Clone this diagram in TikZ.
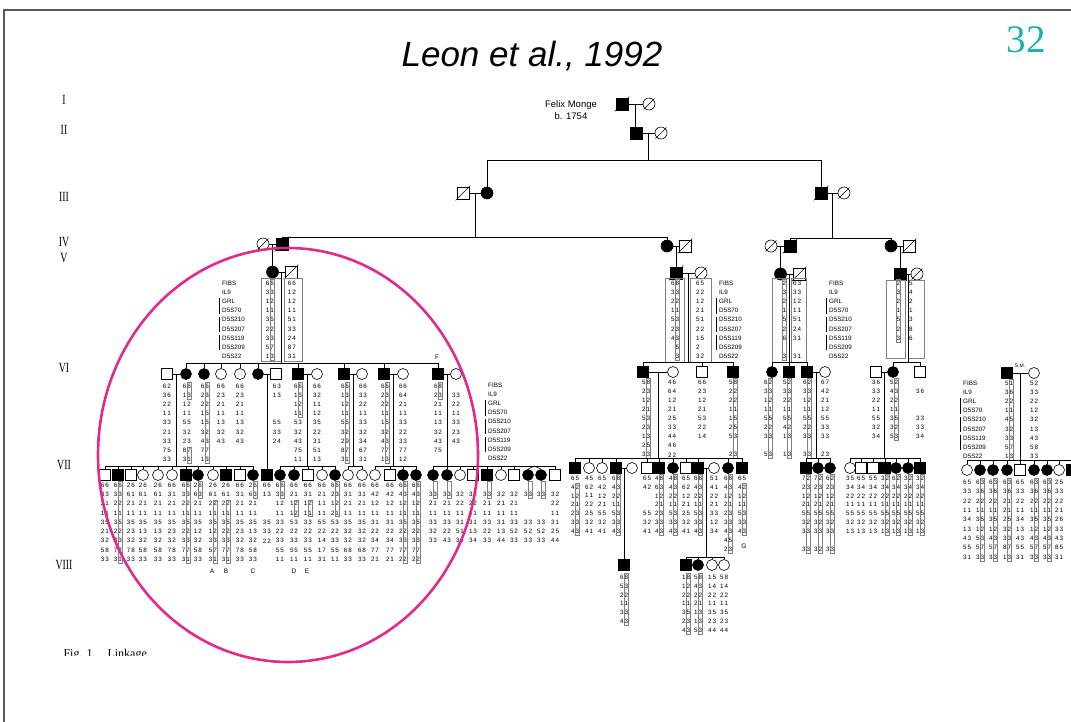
\documentclass[tikz,border=0pt]{standalone}
\usepackage{fontspec}
\setmainfont{Liberation Serif}
\setsansfont{Liberation Sans}
\usetikzlibrary{calc}

\definecolor{ringpink}{RGB}{226,42,140}
\definecolor{slideno}{RGB}{22,180,172}
\definecolor{framegray}{RGB}{90,90,90}

\newcommand\gtfont{\sffamily\fontsize{6.3}{7}\selectfont}
\newcommand\mkfont{\sffamily\fontsize{6.3}{7}\selectfont}

% allele pair, o stands for an untyped allele
\newcommand\allele[1]{\if o#1\phantom{0}\else#1\fi}
\newcommand\pr[2]{\allele{#1}\hspace{1pt}\allele{#2}}

% genotype column: x, top y, row step, list of pairs
\newcommand\geno[4]{%
  \foreach \p [count=\r] in #4
    \node[gt] (g#1y#2r\r) at (#1,{#2+(\r-1)*#3}) {\expandafter\pr\p};}

% marker names with their linkage bars
\newcommand\markers[3]{%
  \foreach \m [count=\r] in {FIBS,IL9,GRL,D5S70,D5S210,D5S207,D5S119,D5S209,D5S22}
    \node[mk] (mk#1r\r) at (#1,{#2+(\r-1)*#3}) {\m};
  \foreach \r in {3,5,7}
    \draw[kin, line width=.4pt] (#1-2.5,{#2+(\r-1)*#3-3}) -- (#1-2.5,{#2+\r*#3+3});}

% box round one haplotype: x, top y, step, first row, last row
\newcommand\haplo[5]{\draw[hap] (#1+.1,{#2+(#4-1)*#3-3.6}) rectangle (#1+4.6,{#2+(#5-1)*#3+3.6});}

% row of individuals: prefix, y, x/style list
\newcommand\sibrow[3]{%
  \foreach \x/\s [count=\n] in {#3}{%
    \edef\tmp{\noexpand\node[\s] (#1\n) at (\x,#2) {};}\tmp}}

% descent line: parent point, bar y, children
\newcommand\brood[3]{%
  \coordinate (bar) at (0,#2);
  \draw[kin] (#1) -- (#1 |- bar);
  \foreach \k in {#3}
    \draw[kin] (\k.north) -- (\k |- bar) -- (#1 |- bar);}

\newcommand\couple[3]{\draw[kin] (#1) -- (#2); \coordinate (#3) at ($(#1)!.5!(#2)$);}

\tikzset{
  kin/.style={line width=.6pt},
  ind/.style={draw, line width=.6pt, inner sep=0pt, minimum size=11pt},
  big/.style={minimum size=12pt},
  msq/.style={ind, rectangle, fill=white},
  fsq/.style={ind, rectangle, fill=black},
  fem/.style={ind, circle, fill=white},
  ffem/.style={ind, circle, fill=black},
  dead/.style={append after command={(\tikzlastnode.south west) edge[kin, shorten <=-1.5pt, shorten >=-1.5pt] (\tikzlastnode.north east)}},
  dsq/.style={msq, dead},
  dfem/.style={fem, dead},
  gt/.style={font=\gtfont, inner sep=0pt},
  mk/.style={font=\mkfont, inner sep=0pt, anchor=west},
  tag/.style={font=\sffamily\fontsize{6.5}{7}\selectfont, inner sep=0pt},
  hap/.style={draw=black!50, line width=.4pt},
  gen/.style={font=\rmfamily\fontsize{14}{14}\selectfont, inner sep=0pt},
}

\begin{document}
\begin{tikzpicture}[x=1pt,y=-1pt]
\useasboundingbox (0,0) rectangle (1071,721);
\fill[white] (0,0) rectangle (1071,721);
% slide frame
\draw[framegray, line width=1.3pt] (4,740) -- (4,10) -- (1090,10);

% heading and slide number
\node[font=\sffamily\itshape\fontsize{35}{40}\selectfont, anchor=base] (title) at (532,66) {Leon et al., 1992};
\node[font=\rmfamily\fontsize{39}{40}\selectfont, text=slideno, anchor=base] (slidenum) at (1026,52) {32};

% generation numbers
\foreach \g/\y [count=\i] in {I/100,II/130,III/197,IV/242,V/258,VI/368,VII/465,VIII/565}
  \node[gen] (gen\i) at (64,\y) {\scalebox{.7}[1]{\g}};

% generations I to V
\node[fsq,big,dead] (felix) at (622,104) {};
\node[dfem,big] (felixw) at (649,104) {};
\node[font=\sffamily\fontsize{9.5}{12}\selectfont, align=center] (felixtxt) at (571,110) {Felix Monge\\b. 1754};
\node[fsq,big] (g2a) at (636,133) {};
\node[dfem,big] (g2b) at (661,133) {};
\node[dsq,big] (g3a) at (463,193) {};
\node[ffem,big] (g3b) at (487,193) {};
\node[fsq,big,dead] (g3c) at (821,193) {};
\node[dfem,big] (g3d) at (844,193) {};
\node[dfem,big] (g4a) at (263,244) {};
\node[fsq,big,dead] (g4b) at (282,244) {};
\node[ffem,big] (g4c) at (667,246) {};
\node[dsq,big] (g4d) at (685,246) {};
\node[dfem,big] (g4e) at (771,246) {};
\node[fsq,big,dead] (g4f) at (790,246) {};
\node[ffem,big] (g4g) at (891,246) {};
\node[dsq,big] (g4h) at (909,246) {};
\node[ffem,big] (g5a) at (272.5,272) {};
\node[dsq,big] (g5b) at (291,272) {};
\node[fsq,big,dead] (g5c) at (676,273) {};
\node[dfem,big] (g5d) at (701,273) {};
\node[ffem,big] (g5e) at (780.5,274) {};
\node[dsq,big] (g5f) at (799,274) {};
\node[fsq,big] (g5g) at (900,274) {};
\node[dfem,big] (g5h) at (917,274) {};

\couple{felix}{felixw}{m1}
\draw[kin] (m1) -- (m1 |- g2a.north);
\couple{g2a}{g2b}{m2}
\brood{m2}{160}{g3b,g3c}
\couple{g3a}{g3b}{m3}
\couple{g3c}{g3d}{m4}
\brood{m3}{237}{g4b,g4c}
\brood{m4}{238}{g4f,g4g}
\couple{g4a}{g4b}{m5}
\couple{g4c}{g4d}{m6}
\couple{g4e}{g4f}{m7}
\couple{g4g}{g4h}{m8}
\draw[kin] (m5) -- (m5 |- g5a.north);
\draw[kin] (m6) -- (m6 |- g5c.north);
\draw[kin] (m7) -- (m7 |- g5e.north);
\draw[kin] (m8) -- (m8 |- g5g.north);

% generation V typing
\markers{222}{283}{9.2}
\markers{719}{283}{9.2}
\markers{829}{283}{9.2}
\geno{270}{283}{9.2}{{66,33,12,11,35,22,33,57,13}}
\geno{292}{283}{9.2}{{66,12,12,11,51,33,24,87,31}}
\geno{675}{283}{9.2}{{68,33,22,11,53,23,43,o5,o3}}
\geno{700}{283}{9.2}{{65,22,12,21,51,22,15,2o,32}}
\geno{782}{283}{9.2}{{o2,o3,o2,o1,o5,o2,o6,oo,o3}}
\geno{797}{283}{9.2}{{63,33,12,11,51,24,31,oo,31}}
\geno{896}{283}{9.2}{{o2,o3,o2,o1,o5,o2,o3}}
\geno{913}{283}{9.2}{{5o,4o,2o,1o,3o,8o,6o}}
\haplo{270}{283}{9.2}{1}{9}
\haplo{675}{283}{9.2}{1}{9}
\haplo{782}{283}{9.2}{1}{9}
\haplo{896}{283}{9.2}{1}{7}
\draw[hap] (261,278) rectangle (281,361);
\draw[hap] (284,278) rectangle (302,361);
\draw[hap] (665,278) rectangle (684,362);
\draw[hap] (690,278) rectangle (711,362);
\draw[hap] (772,278) rectangle (789,362);
\draw[hap] (791,278) rectangle (806,362);
\draw[hap] (886,280) rectangle (905,358);
\draw[hap] (908,280) rectangle (924,358);

% generation VI
\couple{g5a}{g5b}{m9}
\couple{g5c}{g5d}{m10}
\couple{g5e}{g5f}{m11}
\couple{g5g}{g5h}{m12}
\sibrow{s}{374}{167/msq,186/ffem,204/ffem,221/fem,240/fem,258/ffem,276/msq,298/fsq,317/fem,344/fsq,362/fem,384/fsq,403/fem,438/fsq,456/fem}
\sibrow{t}{372}{643/fsq,673/fem,702/msq,733/fsq,772/ffem,789/fsq,807/fsq,825/fem,876/msq,893/ffem,920/msq}
\node[fsq] (sm1) at (1007,373) {};
\node[fem] (sm2) at (1034,373) {};
\node[tag, font=\sffamily\fontsize{5}{6}\selectfont] (lblSM) at (1020,366) {S.M.};
\brood{m9}{363}{s2,s3,s4,s5,s6,s8,s10,s12,s14}
\brood{m10}{362}{t1,t3,t4}
\brood{m11}{362}{t5,t6,t7}
\brood{m12}{362}{t10,t11}
\couple{s1}{s2}{n1}
\couple{s6}{s7}{n2}
\couple{s8}{s9}{n3}
\couple{s10}{s11}{n4}
\couple{s12}{s13}{n5}
\couple{s14}{s15}{n6}
\couple{t1}{t2}{n7}
\couple{t7}{t8}{n8}
\couple{t9}{t10}{n9}
\couple{sm1}{sm2}{n10}
\node[tag] (lblF) at (437,357) {F};

% generation VI typing
\markers{488}{385}{9.2}
\markers{963}{383}{9.2}
\geno{167}{386}{9.2}{{62,36,22,11,33,21,33,75,33}}
\geno{187}{386}{9.2}{{66,13,12,11,55,32,23,87,31}}
\geno{205}{386}{9.2}{{66,23,22,15,15,32,43,77,13}}
\geno{221}{386}{9.2}{{66,23,21,11,13,32,43}}
\geno{240}{386}{9.2}{{66,23,21,11,13,32,43}}
\geno{277}{386}{9.2}{{63,13,oo,oo,55,33,24}}
\geno{298}{386}{9.2}{{66,13,12,11,53,32,43,75,11}}
\geno{317}{386}{9.2}{{66,32,11,12,35,22,31,51,13}}
\geno{345}{386}{9.2}{{66,13,12,11,55,32,29,87,31}}
\geno{363}{386}{9.2}{{66,33,22,11,33,32,34,67,31}}
\geno{385}{386}{9.2}{{66,23,22,11,15,32,43,77,13}}
\geno{403}{386}{9.2}{{66,64,21,11,33,22,33,77,12}}
\geno{438}{386}{9.2}{{68,23,21,11,13,32,43,75}}
\geno{456}{386}{9.2}{{oo,33,22,11,33,23,43}}
\geno{646}{382}{9.1}{{58,23,12,21,53,23,13,25,33}}
\geno{672}{382}{9.1}{{46,64,12,21,25,33,44,46,22}}
\geno{702}{382}{9.1}{{66,23,12,21,53,22,14}}
\geno{733}{382}{9.1}{{58,22,22,11,15,25,53,oo,23}}
\geno{768}{382}{9.1}{{62,33,12,11,55,22,33,oo,53}}
\geno{787}{382}{9.1}{{52,33,22,11,55,42,13,oo,13}}
\geno{807}{382}{9.1}{{62,33,12,11,55,22,33,oo,33}}
\geno{825}{382}{9.1}{{67,42,21,12,55,33,33,oo,23}}
\geno{876}{382}{9.1}{{36,33,22,11,55,32,34}}
\geno{894}{382}{9.1}{{52,43,22,11,35,32,53}}
\geno{920}{382}{9.1}{{oo,36,oo,oo,33,33,34}}
\geno{1009}{383}{9.2}{{51,36,22,11,45,32,33,57,13}}
\geno{1034}{383}{9.2}{{52,33,22,12,32,13,43,58,33}}
\haplo{187}{386}{9.2}{1}{2}
\haplo{187}{386}{9.2}{8}{9}
\haplo{205}{386}{9.2}{1}{9}
\haplo{298}{386}{9.2}{1}{4}
\haplo{345}{386}{9.2}{1}{9}
\haplo{385}{386}{9.2}{1}{9}
\haplo{438}{386}{9.2}{1}{2}
\haplo{646}{382}{9.1}{1}{9}
\haplo{733}{382}{9.1}{1}{9}
\haplo{768}{382}{9.1}{1}{9}
\haplo{787}{382}{9.1}{1}{9}
\haplo{807}{382}{9.1}{1}{9}
\haplo{894}{382}{9.1}{1}{7}
\haplo{1009}{383}{9.2}{1}{9}

% generation VII, left branch
\sibrow{a}{475}{105/msq,118/fsq,131/msq,143/fem,158/fem,172/fem,186/fsq,198/ffem,213/fem,226/fsq,240/msq,253/ffem}
\node[fsq] (b1) at (267,475) {};
\sibrow{c}{475}{280/ffem,294/ffem,308/msq,322/fem,335/ffem}
\sibrow{d}{475}{348/fem,362/fem}
\sibrow{e}{475}{375/fem,390/msq,403/ffem,416/ffem}
\sibrow{f}{475}{433/ffem,447/ffem,460/fem,473/msq,487/fsq,501/fem,514/msq,528/ffem,541/ffem,555/msq}
\brood{n1}{466}{a1,a2,a3,a4,a5,a6,a7,a8,a9,a10,a11,a12}
\draw[kin] (n2) -- (n2 |- b1.north);
\brood{n3}{466}{c1,c2,c3,c4,c5}
\brood{n4}{466}{d1,d2}
\brood{n5}{466}{e1,e2,e3,e4}
\brood{n6}{466}{f1,f2,f3,f4,f5,f6,f7,f10}
\coordinate (tw) at ($(f8)!.5!(f9)$);
\draw[kin] (f8.north) -- (tw |- bar) -- (f9.north);

\geno{105}{485}{9.3}{{66,33,21,11,35,21,32,58,33}}
\geno{118}{485}{9.3}{{66,33,22,11,35,22,33,77,31}}
\geno{131}{485}{9.3}{{26,61,21,11,35,23,32,78,33}}
\geno{143}{485}{9.3}{{26,61,21,11,35,13,32,58,33}}
\geno{158}{485}{9.3}{{26,61,21,11,35,13,32,58,33}}
\geno{172}{485}{9.3}{{66,31,21,11,35,23,32,78,33}}
\geno{186}{485}{9.3}{{66,33,22,11,35,22,33,77,31}}
\geno{198}{485}{9.3}{{26,63,21,11,35,12,32,58,33}}
\geno{213}{485}{9.3}{{26,61,22,11,35,12,33,57,31}}
\geno{226}{485}{9.3}{{26,61,22,11,35,22,33,77,31}}
\geno{240}{485}{9.3}{{66,31,21,11,35,23,32,78,33}}
\geno{253}{485}{9.3}{{26,63,21,11,35,13,32,58,33}}
\geno{267}{485}{9.3}{{66,13,oo,oo,35,33,22}}
\geno{280}{485}{9.3}{{66,33,12,11,33,22,33,55,11}}
\geno{294}{485}{9.3}{{66,21,12,12,53,22,33,55,11}}
\geno{308}{485}{9.3}{{66,31,12,11,33,22,33,55,11}}
\geno{322}{485}{9.3}{{66,21,11,11,55,22,14,17,31}}
\geno{335}{485}{9.3}{{66,23,12,21,53,22,33,55,11}}
\geno{348}{485}{9.3}{{66,31,21,11,35,32,32,68,33}}
\geno{362}{485}{9.3}{{66,31,21,11,35,32,32,68,33}}
\geno{375}{485}{9.3}{{66,42,12,11,31,22,34,77,21}}
\geno{390}{485}{9.3}{{66,42,12,11,31,22,34,77,21}}
\geno{403}{485}{9.3}{{66,43,12,11,35,22,33,77,22}}
\geno{416}{485}{9.3}{{66,43,12,11,35,22,33,77,22}}
\geno{433}{485}{9.3}{{oo,33,21,11,33,32,33}}
\geno{447}{485}{9.3}{{oo,33,21,11,33,22,43}}
\geno{460}{485}{9.3}{{oo,32,22,11,31,51,34}}
\geno{473}{485}{9.3}{{oo,32,22,11,31,13,34}}
\geno{487}{485}{9.3}{{oo,33,21,11,33,22,33}}
\geno{501}{485}{9.3}{{oo,32,21,11,31,13,44}}
\geno{514}{485}{9.3}{{oo,32,21,11,33,52,33}}
\geno{528}{485}{9.3}{{oo,33,oo,oo,33,52,33}}
\geno{541}{485}{9.3}{{oo,33,oo,oo,33,52,33}}
\geno{555}{485}{9.3}{{oo,32,22,11,31,25,44}}
\haplo{118}{485}{9.3}{1}{9}
\haplo{186}{485}{9.3}{1}{9}
\haplo{198}{485}{9.3}{1}{2}
\haplo{213}{485}{9.3}{3}{9}
\haplo{226}{485}{9.3}{3}{9}
\haplo{253}{485}{9.3}{1}{2}
\haplo{280}{485}{9.3}{1}{2}
\haplo{294}{485}{9.3}{3}{4}
\haplo{308}{485}{9.3}{3}{4}
\haplo{335}{485}{9.3}{1}{4}
\haplo{403}{485}{9.3}{1}{9}
\haplo{416}{485}{9.3}{1}{9}
\haplo{433}{485}{9.3}{1}{2}
\haplo{447}{485}{9.3}{1}{2}
\haplo{487}{485}{9.3}{1}{2}
\haplo{528}{485}{9.3}{1}{2}
\haplo{541}{485}{9.3}{1}{2}
\foreach \l/\x in {A/212,B/226,C/253,D/294,E/307}
  \node[tag] (lbl\l) at (\x,571) {\l};

% generation VII, middle and right branches
\sibrow{h}{468}{575/fsq,589/fem,602/fem,616/fsq,647/msq,659/fsq,673/ffem,686/msq,698/fsq,728/ffem,742/fsq}
\node[fem] (hw1) at (632,468) {};
\node[fem] (hw2) at (714,468) {};
\brood{n7}{458}{h1,h2,h3,h4,h5,h6,h7,h8,h9,h10,h11}
\couple{h4}{hw1}{n11}
\couple{h9}{hw2}{n12}
\sibrow{k}{468}{806/fsq,818/ffem,830/ffem}
\brood{n8}{458}{k1,k2,k3}
\sibrow{l}{468}{850/fem,861/msq,873/msq,885/fsq,896/ffem,908/ffem,920/fsq}
\brood{n9}{458}{l1,l2,l3,l4,l5,l6,l7}
\sibrow{q}{470}{967/fem,980/ffem,993/ffem,1007/ffem,1020/msq,1034/ffem,1047/ffem,1059/fem,1072/fsq}
\brood{n10}{460}{q1,q2,q3,q4,q5,q6,q7,q8,q9}
\node[tag] (lblG) at (744,546) {G};

\geno{575}{478}{8.9}{{65,42,12,21,23,33,43}}
\geno{589}{478}{8.9}{{45,62,11,22,25,32,41}}
\geno{602}{478}{8.9}{{65,42,12,21,55,32,41}}
\geno{616}{478}{8.9}{{68,43,22,11,53,33,43}}
\geno{647}{478}{8.9}{{65,42,oo,oo,55,32,41}}
\geno{659}{478}{8.9}{{48,63,12,21,23,33,43}}
\geno{673}{478}{8.9}{{48,43,22,11,53,33,43}}
\geno{686}{478}{8.9}{{65,62,12,21,25,32,41}}
\geno{698}{478}{8.9}{{68,43,22,11,53,33,43}}
\geno{714}{478}{8.9}{{51,41,22,21,33,12,34}}
\geno{728}{478}{8.9}{{68,43,12,21,23,33,43,45,23}}
\geno{742}{478}{8.9}{{65,42,12,11,53,33,43}}
\geno{806}{478}{8.9}{{72,23,12,21,55,32,33,oo,33}}
\geno{818}{478}{8.9}{{72,23,12,21,55,32,33,oo,32}}
\geno{830}{478}{8.9}{{62,23,12,21,55,32,33,oo,33}}
\geno{850}{478}{8.9}{{35,34,22,11,55,32,13}}
\geno{861}{478}{8.9}{{65,34,22,11,55,32,13}}
\geno{873}{478}{8.9}{{55,34,22,11,55,32,13}}
\geno{885}{478}{8.9}{{32,34,22,11,55,32,13}}
\geno{896}{478}{8.9}{{62,34,22,11,55,32,13}}
\geno{908}{478}{8.9}{{32,34,22,11,55,32,13}}
\geno{920}{478}{8.9}{{32,34,22,11,55,32,13}}
\geno{967}{482}{9.4}{{65,33,22,11,34,13,43,55,31}}
\geno{980}{482}{9.4}{{63,36,22,11,35,12,53,57,33}}
\geno{993}{482}{9.4}{{63,36,22,11,35,12,43,57,33}}
\geno{1007}{482}{9.4}{{63,36,21,21,25,32,33,87,13}}
\geno{1020}{482}{9.4}{{65,33,22,11,34,13,43,55,31}}
\geno{1034}{482}{9.4}{{63,36,22,11,35,12,43,57,33}}
\geno{1047}{482}{9.4}{{63,36,22,11,35,12,43,57,33}}
\geno{1059}{482}{9.4}{{25,33,22,21,26,33,43,85,31}}
\haplo{575}{478}{8.9}{2}{7}
\haplo{616}{478}{8.9}{1}{7}
\haplo{659}{478}{8.9}{1}{7}
\haplo{673}{478}{8.9}{1}{7}
\haplo{698}{478}{8.9}{1}{7}
\haplo{728}{478}{8.9}{1}{9}
\haplo{742}{478}{8.9}{2}{7}
\haplo{806}{478}{8.9}{1}{9}
\haplo{818}{478}{8.9}{1}{9}
\haplo{830}{478}{8.9}{1}{9}
\haplo{885}{478}{8.9}{1}{7}
\haplo{896}{478}{8.9}{1}{7}
\haplo{908}{478}{8.9}{1}{7}
\haplo{920}{478}{8.9}{1}{7}
\haplo{980}{482}{9.4}{1}{9}
\haplo{993}{482}{9.4}{1}{9}
\haplo{1007}{482}{9.4}{1}{9}
\haplo{1034}{482}{9.4}{1}{9}
\haplo{1047}{482}{9.4}{1}{9}

% generation VIII
\node[fsq] (p1) at (624,565) {};
\draw[kin] (n11) -- (n11 |- p1.north);
\sibrow{r}{565}{686/fsq,698/ffem,712/fem,724/fem}
\brood{n12}{557}{r1,r2,r3,r4}
\geno{624}{577}{8.9}{{68,53,22,11,33,43}}
\geno{686}{577}{8.9}{{18,12,22,11,35,23,43}}
\geno{698}{577}{8.9}{{58,43,22,21,13,13,53}}
\geno{712}{577}{8.9}{{15,14,22,11,35,23,44}}
\geno{724}{577}{8.9}{{58,14,22,11,35,23,44}}
\haplo{624}{577}{8.9}{1}{6}
\haplo{686}{577}{8.9}{1}{7}
\haplo{698}{577}{8.9}{1}{7}

% caption, cut off at the foot of the scan
\begin{scope}
  \clip (0,0) rectangle (1071,655);
  \node[font=\rmfamily\fontsize{12}{14}\selectfont, anchor=base west] (caption) at (60,657.5) {F\textsc{ig}. 1.\quad Linkage};
\end{scope}

% highlighted branch
\draw[ringpink, line width=2.6pt] (288,455) ellipse [x radius=190, y radius=207];
\end{tikzpicture}
\end{document}
